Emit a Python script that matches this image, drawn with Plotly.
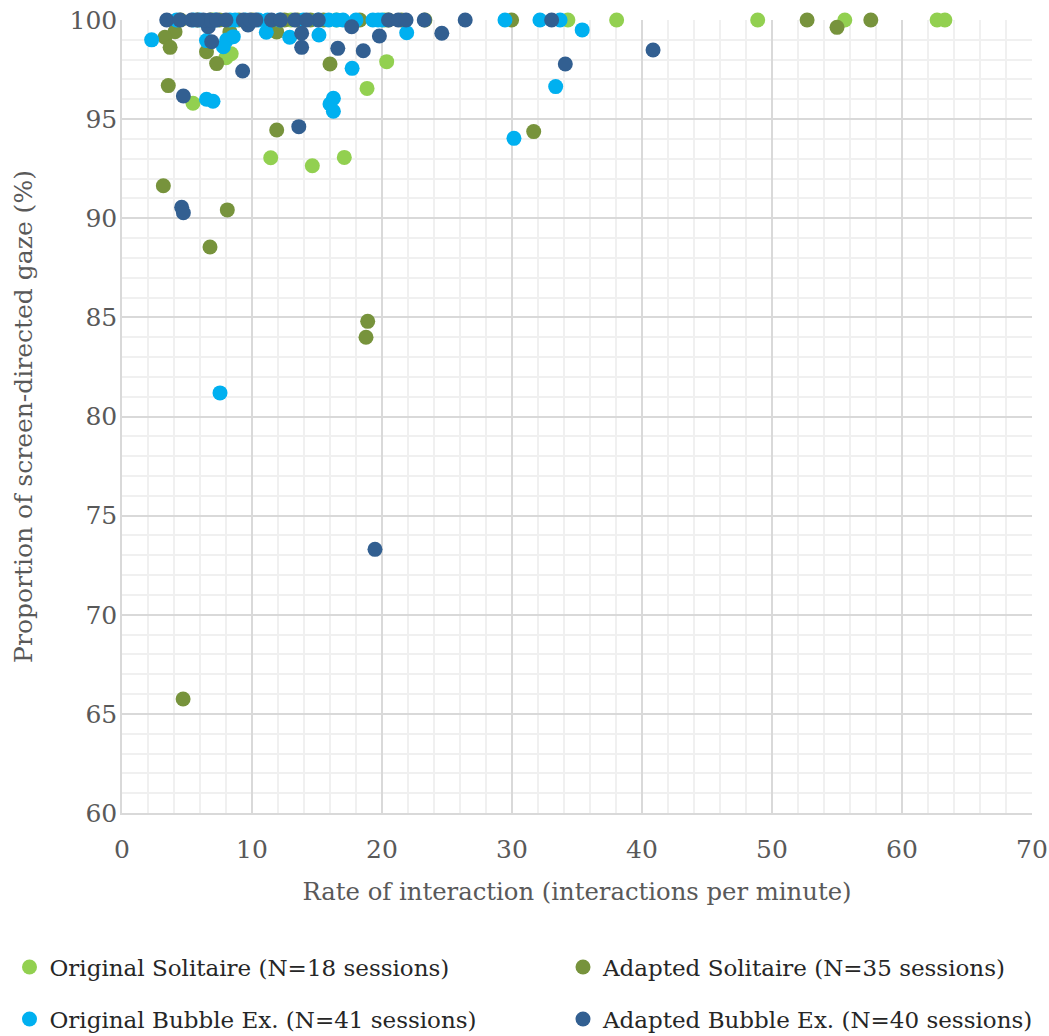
import plotly.graph_objects as go

# Original Solitaire (N=18)
os_x = [5.46, 8.0, 8.4, 11.44, 14.64, 17.1, 18.85, 20.36, 34.3, 38.05, 48.9, 55.6, 62.7, 63.3, 20.2, 7.0, 13.0, 16.5]
os_y = [95.8, 98.1, 98.3, 93.05, 92.65, 93.07, 96.55, 97.9, 100, 100, 100, 100, 100, 100, 100, 100, 100, 100]

# Adapted Solitaire (N=35)
as_x = [4.08, 3.3, 3.7, 6.5, 7.28, 3.56, 11.9, 11.9, 3.18, 8.1, 6.77, 4.7, 18.9, 18.77, 31.67, 16.0,
        18.3, 29.97, 52.7, 57.6, 55.0, 8.3, 10.0, 23.3, 4.5, 5.8, 6.8, 7.5, 9.0, 12.5, 13.5, 14.5, 15.5, 20.5, 21.5]
as_y = [99.41, 99.13, 98.62, 98.4, 97.8, 96.69, 94.45, 99.4, 91.64, 90.42, 88.55, 65.75, 84.8, 84.0, 94.37, 97.78,
        100, 100, 100, 100, 99.63, 99.4, 100, 100, 100, 100, 100, 100, 100, 100, 100, 100, 100, 100, 100]

# Original Bubble Ex. (N=41)
ob_x = [2.28, 7.54, 30.15, 33.36, 35.4, 29.46, 32.15, 33.7, 6.5, 7.0, 16.26, 16.0, 16.26, 17.7, 21.9, 15.15,
        11.1, 12.9, 8.05, 8.56, 6.5, 7.8, 4.2, 8.3, 8.7, 11.2, 12.15, 13.95, 15.1, 15.9, 16.5, 17.0, 19.3, 19.7,
        5.5, 6.0, 7.2, 9.5, 10.5, 20.0, 18.0]
ob_y = [99.0, 81.19, 94.03, 96.64, 99.5, 100, 100, 100, 96.0, 95.9, 96.05, 95.76, 95.4, 97.56, 99.36, 99.24,
        99.38, 99.13, 98.99, 99.16, 98.96, 98.65, 100, 100, 100, 100, 100, 100, 100, 100, 100, 100, 100, 100,
        100, 100, 100, 100, 100, 100, 100]

# Adapted Bubble Ex. (N=40)
ab_x = [19.46, 40.85, 34.1, 13.6, 4.72, 4.59, 4.72, 9.28, 6.9, 13.82, 13.82, 6.64, 17.67, 16.6, 18.56, 19.8,
        24.6, 9.7, 3.44, 4.46, 5.36, 6.26, 6.77, 7.28, 9.33, 9.85, 11.5, 13.3, 15.1, 20.5, 21.25, 21.85, 23.25,
        26.4, 33.05, 5.8, 8.0, 10.3, 12.2, 14.2]
ab_y = [73.3, 98.49, 97.78, 94.62, 96.17, 90.55, 90.28, 97.43, 98.9, 99.33, 98.62, 99.66, 99.66, 98.57, 98.45, 99.19,
        99.33, 99.75, 100, 100, 100, 100, 100, 100, 100, 100, 100, 100, 100, 100, 100, 100, 100,
        100, 100, 100, 100, 100, 100, 100]

names = ["Original Solitaire (N=18 sessions)", "Adapted Solitaire (N=35 sessions)",
         "Original Bubble Ex. (N=41 sessions)", "Adapted Bubble Ex. (N=40 sessions)"]
colors = ["#92D050", "#77933C", "#00B0F0", "#325F91"]
legends = ["legend", "legend2", "legend3", "legend4"]

FONT = "DejaVu Serif"
GRAY = "#595959"
W, H = 1049, 1036

fig = go.Figure()
for xs, ys, nm, c, lg in zip([os_x, as_x, ob_x, ab_x], [os_y, as_y, ob_y, ab_y], names, colors, legends):
    fig.add_trace(go.Scatter(x=xs, y=ys, mode="markers", name=nm, legend=lg, showlegend=True,
                             marker=dict(color=c, size=15, line=dict(width=0)),
                             cliponaxis=False))

axis_common = dict(showline=True, linecolor="#D9D9D9", linewidth=1.5, zeroline=False,
                   gridcolor="#D9D9D9", gridwidth=1.5, ticks="", ticklabeloverflow="allow",
                   tickfont=dict(family=FONT, size=25, color=GRAY))

fig.update_xaxes(range=[0, 70], dtick=10, tick0=0,
                 minor=dict(dtick=2, showgrid=True, gridcolor="#F0F0F0", gridwidth=1.5),
                 title=dict(text="Rate of interaction (interactions per minute)",
                            font=dict(family=FONT, size=24.3, color=GRAY), standoff=20),
                 ticklabelstandoff=13, **axis_common)
fig.update_yaxes(range=[60, 100], dtick=5, tick0=60, automargin=True,
                 minor=dict(dtick=1, showgrid=True, gridcolor="#F0F0F0", gridwidth=1.5),
                 title=dict(text="Proportion of screen-directed gaze (%)",
                            font=dict(family=FONT, size=25, color=GRAY), standoff=30),
                 ticklabelstandoff=-2, **axis_common)

leg_common = dict(orientation="h", xanchor="left", yanchor="middle",
                  xref="container", yref="container",
                  font=dict(family=FONT, size=23, color="#262626"),
                  bgcolor="rgba(0,0,0,0)", itemwidth=30)
fig.update_layout(
    width=W, height=H, showlegend=True,
    margin=dict(l=122, r=17, t=20, b=223, autoexpand=False),
    plot_bgcolor="white", paper_bgcolor="white",
    legend=dict(x=9.5 / W, y=1 - 967 / H, **leg_common),
    legend2=dict(x=563 / W, y=1 - 967 / H, **leg_common),
    legend3=dict(x=9.5 / W, y=1 - 1019 / H, **leg_common),
    legend4=dict(x=563 / W, y=1 - 1019 / H, **leg_common),
    font=dict(family=FONT),
)

fig.write_html("out.html", config={"displayModeBar": False},
               post_script="document.body.style.margin='0';document.body.style.overflow='hidden';")
